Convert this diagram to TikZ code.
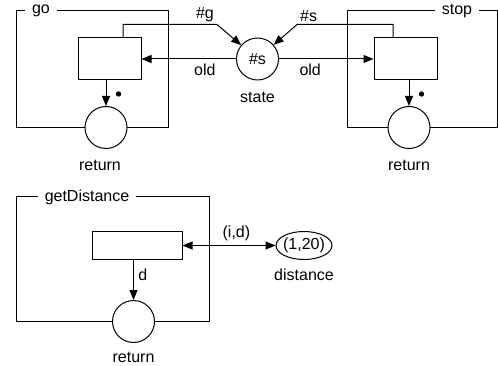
\documentclass[tikz,border=0pt]{standalone}
\usepackage{fontspec}
\setmainfont{Liberation Sans}
\usetikzlibrary{positioning, calc, arrows.meta, shapes.geometric}

\begin{document}
\begin{tikzpicture}[x=0.75pt, y=-0.75pt, line width=0.75pt,
	font=\fontsize{12}{14}\selectfont,
	trans/.style={draw, minimum width=47.25pt, minimum height=31.5pt, inner sep=0pt},
	place/.style={draw, circle, fill=white, minimum size=31.5pt, inner sep=0pt},
	frametitle/.style={fill=white, inner xsep=5pt, inner ysep=1pt},
	arc/.style={-{Triangle[length=7.5pt, width=6pt]}},
	token/.style={circle, fill, inner sep=0pt, minimum size=4pt}]
	\useasboundingbox (0,0) rectangle (498,366);
	
	% frames of the three operations
	\draw (16,11) rectangle (168,127.5);
	\node[frametitle] (gotitle) at (41,11) {go};
	\draw (347,11) rectangle (497,127.5);
	\node[frametitle] (stoptitle) at (457,11) {stop};
	\draw (16,197) rectangle (209,321.5);
	\node[frametitle] (gdtitle) at (87,197) {getDistance};
	
	% go
	\node[trans] (gobox) at (109.5,59) {};
	\node[place] (goret) at (106,127.5) {};
	\node (goretlbl) at (100,165) {return};
	\node[token] (godot) at (118.5,94) {};
	\draw[arc] (goret |- gobox.south) -- (goret);
	
	% shared state
	\node[place] (state) at (257.5,59) {\#s};
	\node (statelbl) at (257.5,97) {state};
	\coordinate (gbend) at (217,24.5);
	\coordinate (sbend) at (297,24.5);
	
	% stop
	\node[trans] (stopbox) at (405.5,59) {};
	\node[place] (stopret) at (409,127.5) {};
	\node (stopretlbl) at (409,165) {return};
	\node[token] (stopdot) at (421.5,94) {};
	\draw[arc] (stopret |- stopbox.south) -- (stopret);
	
	\draw[arc] ($(gobox.north)+(13.5,0)$) |- (gbend) node[above left, inner sep=2pt] {\#g} -- (state);
	\draw[arc] ($(stopbox.north)+(-12.5,0)$) |- (sbend) node[above right, inner sep=2pt] {\#s} -- (state);
	\draw[arc] (state.west) -- node[pos=.33, below] {old} (gobox.east);
	\draw[arc] (state.east) -- node[pos=.33, below] {old} (stopbox.west);
	
	% getDistance
	\node[trans, minimum width=67.5pt, minimum height=21pt] (gdbox) at (137,245.5) {};
	\node[place] (gdret) at (133.5,321.5) {};
	\node (gdretlbl) at (133.5,357) {return};
	\node[draw, ellipse, minimum width=42pt, minimum height=21pt, inner sep=0pt] (dist) at (304,245.5) {\makebox[26pt]{(1,20)}};
	\node (distlbl) at (304,275) {distance};
	\draw[arc] (gdret |- gdbox.south) -- node[pos=.38, right] {d} (gdret);
	\draw[{Triangle[length=7.5pt, width=6pt]}-{Triangle[length=7.5pt, width=6pt]}] (gdbox.east) -- node[pos=.58, above] {(i,d)} (dist.west);
\end{tikzpicture}
\end{document}
